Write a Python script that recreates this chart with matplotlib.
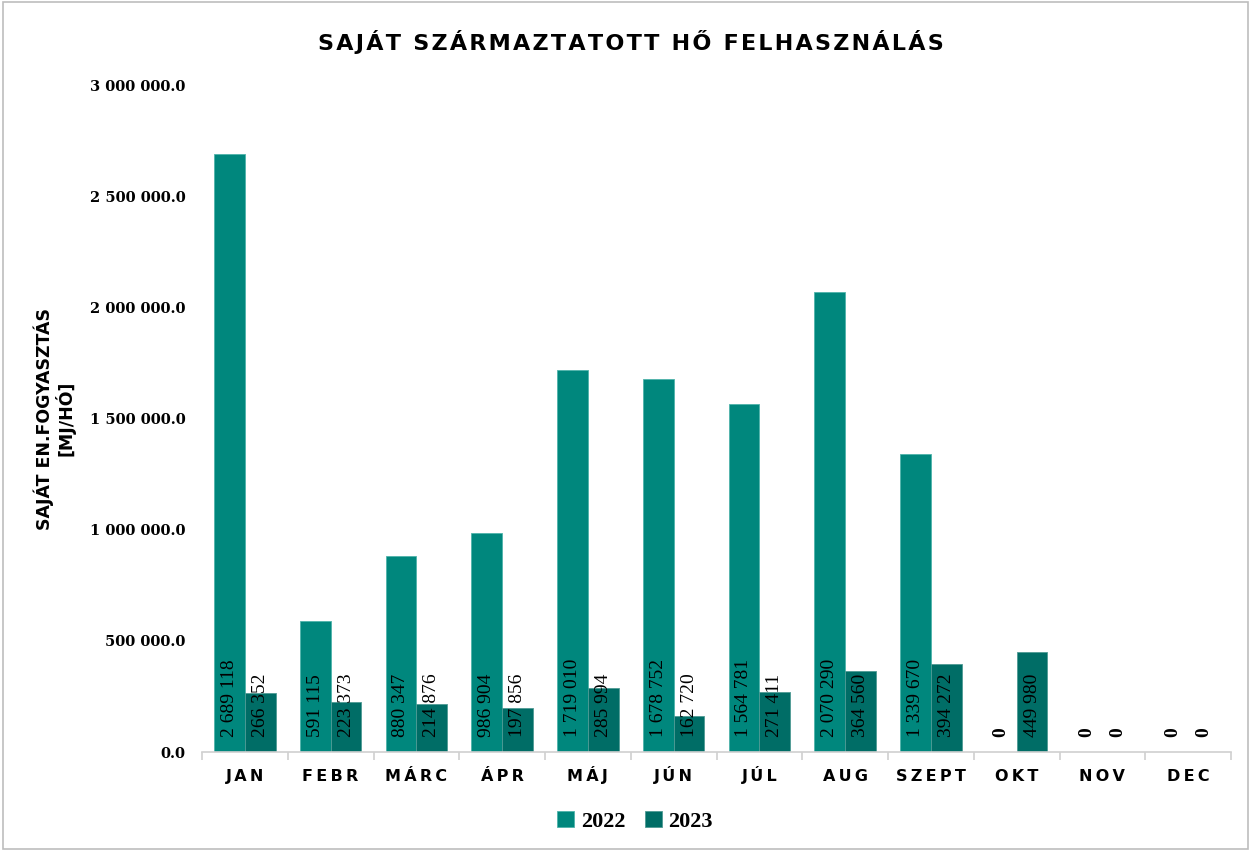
import matplotlib.pyplot as plt
import matplotlib.patches as mpatches
import numpy as np

# Data
months = ['JAN', 'FEBR', 'MÁRC', 'ÁPR', 'MÁJ', 'JÚN', 'JÚL', 'AUG', 'SZEPT', 'OKT', 'NOV', 'DEC']
values_2022 = [2689118, 591115, 880347, 986904, 1719010, 1678752, 1564781, 2070290, 1339670, 0, 0, 0]
values_2023 = [266352, 223373, 214876, 197856, 285994, 162720, 271411, 364560, 394272, 449980, 0, 0]
y_ticks = [0, 500000, 1000000, 1500000, 2000000, 2500000, 3000000]

COLOR_2022 = '#00877D'
COLOR_2023 = '#006D66'
HAIR = '\u200a'


def spaced(text, sep=HAIR * 2):
    return sep.join(text)


def fmt_thousands(v, decimals=0):
    s = f"{v:,.{decimals}f}"
    return s.replace(',', ' ')


fig = plt.figure(figsize=(12.5, 8.51), dpi=100)
ax = fig.add_axes([0.1616, 0.1163, 0.8232, 0.7838])

x = np.arange(len(months))
width = 0.36

bars22 = ax.bar(x - width / 2, values_2022, width, color=COLOR_2022, label='2022',
                edgecolor='#4fb3aa', linewidth=0.6)
bars23 = ax.bar(x + width / 2, values_2023, width, color=COLOR_2023, label='2023',
                edgecolor='#4f9a94', linewidth=0.6)

# Value labels inside bar base
for bars, vals in ((bars22, values_2022), (bars23, values_2023)):
    for b, v in zip(bars, vals):
        weight = 'bold' if v == 0 else 'normal'
        ax.annotate(fmt_thousands(v), xy=(b.get_x() + b.get_width() / 2, 0),
                    xytext=(0, 11), textcoords='offset points',
                    rotation=90, ha='center', va='bottom',
                    fontsize=14, fontweight=weight, family='Liberation Serif',
                    color='black')

ax.set_ylim(0, 3000000)
ax.set_xlim(-0.5, len(months) - 0.5)
ax.set_yticks(y_ticks)
ax.set_yticklabels([fmt_thousands(v, 1) for v in y_ticks],
                   fontsize=10.5, fontweight='bold', family='DejaVu Serif')
ax.tick_params(axis='y', length=0, pad=12)

ax.set_xticks(x)
ax.set_xticklabels([spaced(m) for m in months], fontsize=11.5, fontweight='bold')
for lbl in ax.get_xticklabels():
    lbl.set_verticalalignment('baseline')
ax.tick_params(axis='x', length=0, pad=21)
ax.set_xticks(np.arange(-0.5, len(months)), minor=True)
ax.tick_params(axis='x', which='minor', length=6, color='#d0d0d0', width=1.2)

for side in ('top', 'right', 'left'):
    ax.spines[side].set_visible(False)
ax.spines['bottom'].set_color('#d0d0d0')
ax.spines['bottom'].set_linewidth(1.2)

ax.set_ylabel('SAJÁT EN.FOGYASZTÁS\n[MJ/HÓ]', fontsize=12.5, fontweight='bold',
              family='DejaVu Sans', linespacing=1.0)
ax.yaxis.set_label_coords(-0.123, 0.5)

fig.suptitle(spaced('SAJÁT SZÁRMAZTATOTT HŐ FELHASZNÁLÁS', HAIR),
             fontsize=16, fontweight='bold', x=0.505, y=0.965)

ax.legend(loc='upper center', bbox_to_anchor=(0.421, -0.058), ncol=2, frameon=False,
          prop={'family': 'Liberation Serif', 'weight': 'bold', 'size': 16},
          handlelength=0.75, handleheight=0.75, handletextpad=0.3, columnspacing=0.9)

# Frame around the chart
fig.patches.append(mpatches.Rectangle((0.002, 0.002), 0.996, 0.996, transform=fig.transFigure,
                                      fill=False, edgecolor='#bdbdbd', linewidth=1.2))

plt.savefig('out.png', dpi=100)
plt.close()
